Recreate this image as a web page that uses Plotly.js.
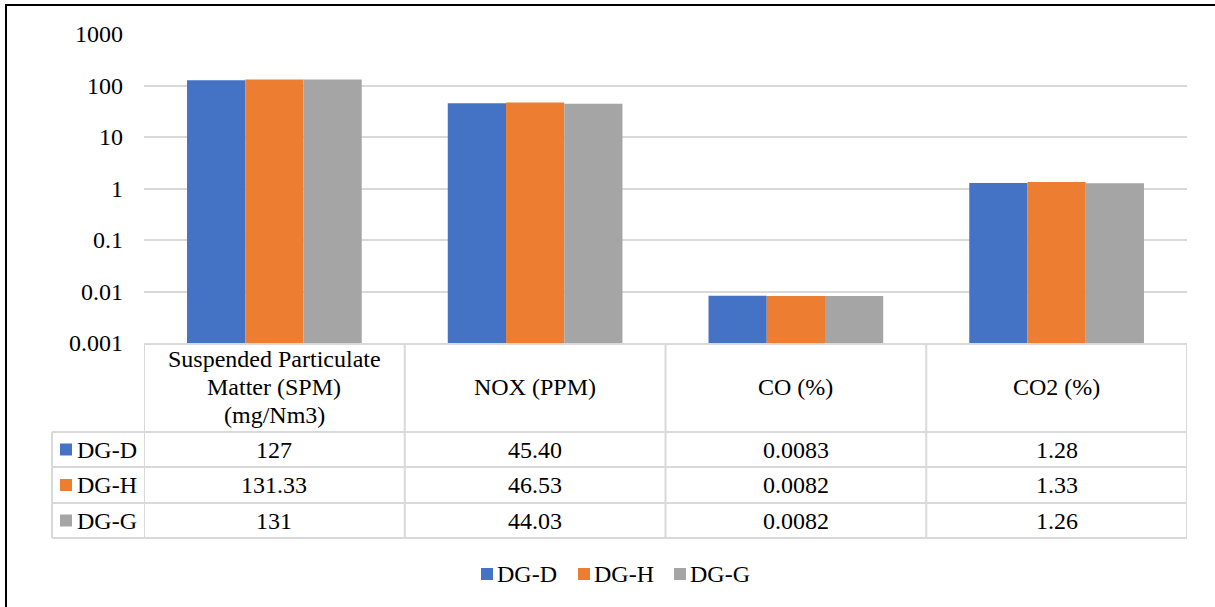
<!DOCTYPE html>
<html>
<head>
<meta charset="utf-8">
<script src="https://cdn.plot.ly/plotly-3.0.1.min.js"></script>
<style>html,body{margin:0;padding:0;background:#fff;}#chart{width:1215px;height:607px;}</style>
</head>
<body>
<div id="chart"></div>
<script>
// ---- data ----
var categories = ["Suspended Particulate<br>Matter (SPM)<br>(mg/Nm3)", "NOX (PPM)", "CO (%)", "CO2 (%)"];
var seriesNames = ["DG-D", "DG-H", "DG-G"];
var dgD = [127, 45.40, 0.0083, 1.28];
var dgH = [131.33, 46.53, 0.0082, 1.33];
var dgG = [131, 44.03, 0.0082, 1.26];
var tableDecimals = [null, 2, 4, 2];
var tickVals = [0.001, 0.01, 0.1, 1, 10, 100, 1000];
var tickText = ["0.001", "0.01", "0.1", "1", "10", "100", "1000"];

var seriesValues = [dgD, dgH, dgG];
var colors = ["#4472C4", "#ED7D31", "#A5A5A5"];
var FONT = "Liberation Serif, Times New Roman, serif";
var FS = 24;
var GRID = "#D9D9D9";

// plot area in page pixels
var L = 144, R = 1187, T = 34, B = 343;
function px2x(px) { return (px - L) / (R - L); }
function py2y(py) { return (B - py) / (B - T); }

var traces = seriesNames.map(function (name, i) {
  return {
    type: "bar", name: name, x: categories, y: seriesValues[i],
    marker: { color: colors[i], line: { width: 0 } },
    hoverinfo: "x+y+name"
  };
});

function fmt(v, d) { return d === null ? String(v) : v.toFixed(d); }
function tf() { return { family: FONT, size: FS, color: "#000000" }; }

var shapes = [];
var annotations = [];

// outer frame
shapes.push({ type: "rect", xref: "paper", yref: "paper",
  x0: px2x(6), x1: px2x(1230), y0: py2y(5), y1: py2y(640),
  line: { color: "#000", width: 2 }, fillcolor: "rgba(0,0,0,0)", layer: "above" });

// table grid
var rowLines = [432, 467, 503, 538];
rowLines.forEach(function (py) {
  shapes.push({ type: "line", xref: "paper", yref: "paper", x0: px2x(52), x1: 1, y0: py2y(py), y1: py2y(py),
    line: { color: GRID, width: 2 } });
});
shapes.push({ type: "line", xref: "paper", yref: "paper", x0: px2x(52), x1: px2x(52), y0: py2y(432), y1: py2y(538),
  line: { color: GRID, width: 2 } });
for (var c = 0; c <= categories.length; c++) {
  shapes.push({ type: "line", xref: "x", yref: "paper", x0: c - 0.5, x1: c - 0.5, y0: py2y(343), y1: py2y(538),
    line: { color: GRID, width: 2 } });
}

// header cells (one annotation per line for Excel-like line spacing)
var headerMid = 387, lineStep = 28;
categories.forEach(function (cat, ci) {
  var lines = cat.split("<br>");
  lines.forEach(function (ln, li) {
    var py = headerMid + (li - (lines.length - 1) / 2) * lineStep;
    annotations.push({ xref: "x", yref: "paper", x: ci, y: py2y(py), text: ln, showarrow: false,
      xanchor: "center", yanchor: "middle", font: tf() });
  });
});

// data rows
var rowCenters = [449.5, 485, 520.5];
seriesNames.forEach(function (name, si) {
  var yc = py2y(rowCenters[si]);
  shapes.push({ type: "rect", xref: "paper", yref: "paper", x0: px2x(60), x1: px2x(72),
    y0: py2y(rowCenters[si] - 6), y1: py2y(rowCenters[si] + 6), fillcolor: colors[si], line: { width: 0 } });
  annotations.push({ xref: "paper", yref: "paper", x: px2x(75), y: yc, text: name, showarrow: false,
    xanchor: "left", yanchor: "middle", font: tf() });
  seriesValues[si].forEach(function (v, ci) {
    annotations.push({ xref: "x", yref: "paper", x: ci, y: yc, text: fmt(v, tableDecimals[ci]), showarrow: false,
      xanchor: "center", yanchor: "middle", font: tf() });
  });
});

// bottom legend
var legendSq = [481, 578, 674];
seriesNames.forEach(function (name, si) {
  shapes.push({ type: "rect", xref: "paper", yref: "paper", x0: px2x(legendSq[si]), x1: px2x(legendSq[si] + 12),
    y0: py2y(580), y1: py2y(568), fillcolor: colors[si], line: { width: 0 } });
  annotations.push({ xref: "paper", yref: "paper", x: px2x(legendSq[si] + 14), y: py2y(574), text: name, showarrow: false,
    xanchor: "left", yanchor: "middle", font: tf() });
});

var layout = {
  width: 1215, height: 607,
  margin: { l: L, r: 1215 - R, t: T, b: 607 - B, pad: 0 },
  paper_bgcolor: "#fff", plot_bgcolor: "#fff",
  barmode: "group", bargap: 0.33, bargroupgap: 0,
  showlegend: false,
  font: tf(),
  xaxis: { type: "category", showticklabels: false, showgrid: false, zeroline: false,
    showline: true, linecolor: GRID, linewidth: 2, ticks: "", range: [-0.5, 3.5], fixedrange: true },
  yaxis: { type: "log", range: [-3, 3], tickvals: tickVals, ticktext: tickText,
    showgrid: true, gridcolor: GRID, gridwidth: 2, zeroline: false, showline: false, ticks: "",
    ticklabelstandoff: 20, tickfont: tf(), fixedrange: true },
  shapes: shapes,
  annotations: annotations
};

Plotly.newPlot("chart", traces, layout, { displayModeBar: false, staticPlot: true });
</script>
</body>
</html>
